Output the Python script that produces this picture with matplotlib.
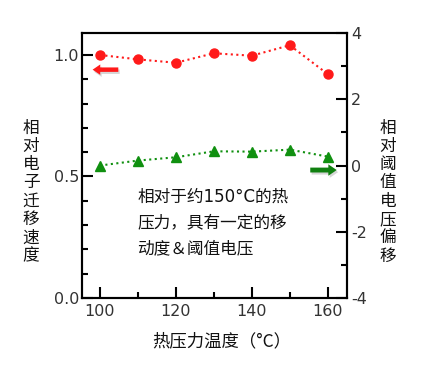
import matplotlib
matplotlib.use("Agg")
from matplotlib import pyplot as plt
from matplotlib.ticker import MultipleLocator
import matplotlib.patheffects as pe

plt.rcParams['axes.unicode_minus'] = False

temps = [100, 110, 120, 130, 140, 150, 160]
mobility = [1.00, 0.982, 0.968, 1.007, 0.997, 1.040, 0.921]
vth_shift = [0.00, 0.15, 0.25, 0.43, 0.42, 0.48, 0.27]

LAT = ['DejaVu Sans', 'Noto Sans CJK SC']
CJK = ['Noto Sans CJK SC', 'DejaVu Sans']
TXT = '#333333'

fig = plt.figure(figsize=(4.25, 3.72), dpi=100)
ax = fig.add_axes([0.193, 0.199, 0.623, 0.712])
ax2 = ax.twinx()

ax.plot(temps, mobility, ':', color='#ff1a1a', lw=1.5, marker='o', ms=6.5, zorder=3)
ax2.plot(temps, vth_shift, ':', color='#109010', lw=1.5, marker='^', ms=7, zorder=3)

ax.set_xlim(95.3, 165)
ax.set_ylim(0, 1.09)
ax2.set_ylim(-4, 4)

ax.xaxis.set_major_locator(MultipleLocator(20))
ax.xaxis.set_minor_locator(MultipleLocator(10))
ax.yaxis.set_major_locator(MultipleLocator(0.5))
ax.yaxis.set_minor_locator(MultipleLocator(0.1))
ax2.yaxis.set_major_locator(MultipleLocator(2))
ax2.yaxis.set_minor_locator(MultipleLocator(1))
ax.yaxis.set_major_formatter(plt.FormatStrFormatter('%.1f'))

for a in (ax, ax2):
    for s in a.spines.values():
        s.set_linewidth(1.5)
    a.tick_params(which='major', direction='in', length=8, width=1.5,
                  labelsize=11.5, labelcolor=TXT, pad=3)
    a.tick_params(which='minor', direction='in', length=4, width=1.5)
ax.tick_params(axis='y', pad=2)
ax.tick_params(axis='x', pad=4)
for lab in ax.get_xticklabels() + ax.get_yticklabels() + ax2.get_yticklabels():
    lab.set_family(LAT)

# arrows pointing at the axis each series belongs to
shadow = [pe.SimplePatchShadow(offset=(1, -1.5), shadow_rgbFace='#999999', alpha=0.4), pe.Normal()]
style = 'simple,head_length=0.55,head_width=0.75,tail_width=0.32'
ax.annotate('', xy=(0.04, 0.862), xytext=(0.137, 0.862), xycoords='axes fraction',
            arrowprops=dict(arrowstyle=style, mutation_scale=10, shrinkA=0, shrinkB=0,
                            color='#ff1a1a', lw=0, path_effects=shadow))
ax.annotate('', xy=(0.962, 0.483), xytext=(0.862, 0.483), xycoords='axes fraction',
            arrowprops=dict(arrowstyle=style, mutation_scale=11, shrinkA=0, shrinkB=0,
                            color='#108010', lw=0, path_effects=shadow))

ax.text(0.208, 0.285, '相对于约150°C的热\n压力，具有一定的移\n动度＆阈值电压',
        transform=ax.transAxes, ha='left', va='center', fontsize=12,
        family=LAT, color='#111111', linespacing=1.55)

ylab_left = '相对电子迁移速度'
ylab_right = '相对阈值电压偏移'
fig.text(31 / 425, 1 - 192 / 372, '\n'.join(ylab_left), ha='center', va='center',
         fontsize=12, family=CJK, color='#111111', linespacing=1.1)
fig.text(388 / 425, 1 - 192 / 372, '\n'.join(ylab_right), ha='center', va='center',
         fontsize=12, family=CJK, color='#111111', linespacing=1.1)
fig.text(222 / 425, 1 - 341 / 372, '热压力温度（°C）', ha='center', va='center',
         fontsize=12.5, family=CJK, color='#111111')

fig.savefig('out.png', dpi=100)
